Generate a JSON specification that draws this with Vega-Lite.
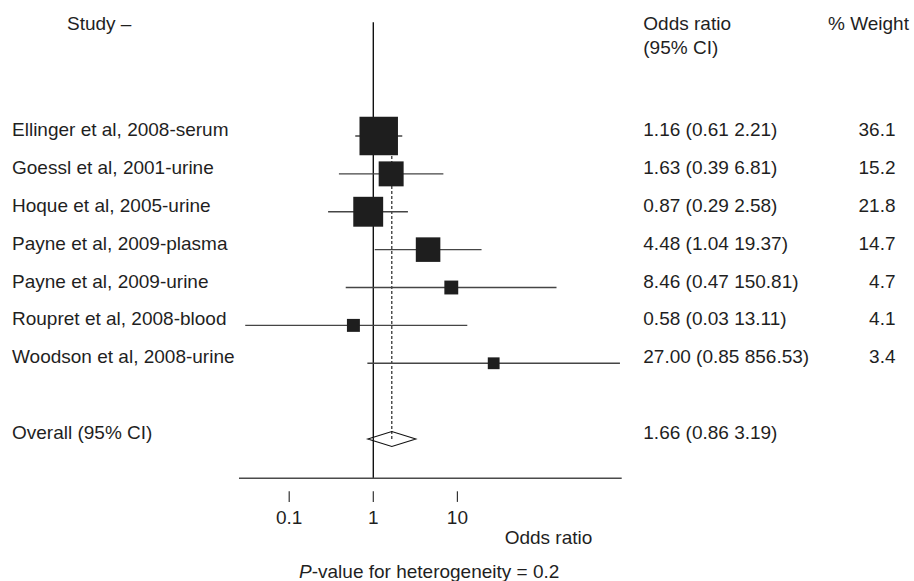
{
  "$schema": "https://vega.github.io/schema/vega-lite/v6.json",
  "width": 914,
  "height": 581,
  "autosize": {"type": "none"},
  "padding": 0,
  "background": "white",
  "config": {
    "view": {"stroke": null},
    "text": {"font": "Liberation Sans", "fontSize": 19, "color": "#1f1f1f", "baseline": "alphabetic"}
  },
  "data": {"values": [{}]},
  "datasets": {
    "studies": [
      {"study": "Ellinger et al, 2008-serum", "or": 1.16, "lo": 0.61, "hi": 2.21, "ci": "1.16 (0.61 2.21)", "weight": 36.1, "row": 0},
      {"study": "Goessl et al, 2001-urine", "or": 1.63, "lo": 0.39, "hi": 6.81, "ci": "1.63 (0.39 6.81)", "weight": 15.2, "row": 1},
      {"study": "Hoque et al, 2005-urine", "or": 0.87, "lo": 0.29, "hi": 2.58, "ci": "0.87 (0.29 2.58)", "weight": 21.8, "row": 2},
      {"study": "Payne et al, 2009-plasma", "or": 4.48, "lo": 1.04, "hi": 19.37, "ci": "4.48 (1.04 19.37)", "weight": 14.7, "row": 3},
      {"study": "Payne et al, 2009-urine", "or": 8.46, "lo": 0.47, "hi": 150.81, "ci": "8.46 (0.47 150.81)", "weight": 4.7, "row": 4},
      {"study": "Roupret et al, 2008-blood", "or": 0.58, "lo": 0.03, "hi": 13.11, "ci": "0.58 (0.03 13.11)", "weight": 4.1, "row": 5},
      {"study": "Woodson et al, 2008-urine", "or": 27.0, "lo": 0.85, "hi": 856.53, "ci": "27.00 (0.85 856.53)", "weight": 3.4, "row": 6}
    ],
    "overall": [
      {"label": "Overall (95% CI)", "or": 1.66, "lo": 0.86, "hi": 3.19, "ci": "1.66 (0.86 3.19)", "row": 8}
    ],
    "ticks": [
      {"v": 0.1, "label": "0.1"},
      {"v": 1, "label": "1"},
      {"v": 10, "label": "10"}
    ]
  },
  "layer": [
    {
      "mark": {"type": "rule", "color": "#111111", "strokeWidth": 1.4},
      "encoding": {
        "x": {"datum": 1, "type": "quantitative", "scale": {"type": "log", "domain": [0.0000364, 2687000], "nice": false}, "axis": null},
        "y": {"datum": -3.0, "type": "quantitative", "scale": {"domain": [-3.59, 11.748], "reverse": true, "nice": false, "zero": false}, "axis": null},
        "y2": {"datum": 9.037}
      }
    },
    {
      "mark": {"type": "rule", "color": "#111111", "strokeWidth": 1.1, "strokeDash": [3, 2]},
      "encoding": {
        "x": {"datum": 1.66, "type": "quantitative"},
        "y": {"datum": 0, "type": "quantitative"},
        "y2": {"datum": 8}
      }
    },
    {
      "mark": {"type": "rule", "color": "#4a4a4a", "strokeWidth": 1.6},
      "encoding": {
        "x": {"datum": 0.02529, "type": "quantitative"},
        "x2": {"datum": 898.7},
        "y": {"datum": 9.037, "type": "quantitative"}
      }
    },
    {
      "data": {"name": "studies"},
      "mark": {"type": "rule", "color": "#454545", "strokeWidth": 1.3},
      "encoding": {
        "x": {"field": "lo", "type": "quantitative"},
        "x2": {"field": "hi"},
        "y": {"field": "row", "type": "quantitative"}
      }
    },
    {
      "data": {"name": "studies"},
      "mark": {"type": "square", "filled": true, "color": "#1e1e1e", "opacity": 1, "strokeWidth": 0},
      "encoding": {
        "x": {"field": "or", "type": "quantitative"},
        "y": {"field": "row", "type": "quantitative"},
        "size": {"field": "weight", "type": "quantitative", "scale": {"type": "linear", "domain": [0, 36.1], "range": [0, 1480]}, "legend": null}
      }
    },
    {
      "data": {"name": "overall"},
      "mark": {"type": "point", "shape": "M-1,0L0,-0.3125L1,0L0,0.3125Z", "size": 2304, "filled": false, "color": "#111111", "strokeWidth": 1.1, "opacity": 1},
      "encoding": {
        "x": {"field": "or", "type": "quantitative"},
        "y": {"field": "row", "type": "quantitative"}
      }
    },
    {
      "data": {"name": "ticks"},
      "mark": {"type": "rule", "color": "#333333", "strokeWidth": 1.2},
      "encoding": {
        "x": {"field": "v", "type": "quantitative"},
        "y": {"datum": 9.38, "type": "quantitative"},
        "y2": {"datum": 9.66}
      }
    },
    {
      "data": {"name": "ticks"},
      "mark": {"type": "text", "align": "center"},
      "encoding": {
        "x": {"field": "v", "type": "quantitative"},
        "y": {"datum": 10.24, "type": "quantitative"},
        "text": {"field": "label"}
      }
    },
    {
      "data": {"name": "studies"},
      "mark": {"type": "text", "align": "left"},
      "encoding": {
        "x": {"datum": 0.00005058, "type": "quantitative"},
        "y": {"field": "row", "type": "quantitative"},
        "text": {"field": "study"}
      }
    },
    {
      "data": {"name": "studies"},
      "mark": {"type": "text", "align": "left"},
      "encoding": {
        "x": {"datum": 1623, "type": "quantitative"},
        "y": {"field": "row", "type": "quantitative"},
        "text": {"field": "ci"}
      }
    },
    {
      "data": {"name": "studies"},
      "mark": {"type": "text", "align": "right"},
      "encoding": {
        "x": {"datum": 1619000, "type": "quantitative"},
        "y": {"field": "row", "type": "quantitative"},
        "text": {"field": "weight", "format": ".1f"}
      }
    },
    {
      "data": {"name": "overall"},
      "mark": {"type": "text", "align": "left"},
      "encoding": {
        "x": {"datum": 0.00005058, "type": "quantitative"},
        "y": {"field": "row", "type": "quantitative"},
        "text": {"field": "label"}
      }
    },
    {
      "data": {"name": "overall"},
      "mark": {"type": "text", "align": "left"},
      "encoding": {
        "x": {"datum": 1623, "type": "quantitative"},
        "y": {"field": "row", "type": "quantitative"},
        "text": {"field": "ci"}
      }
    },
    {
      "mark": {"type": "text", "align": "left"},
      "encoding": {
        "x": {"datum": 0.0002279, "type": "quantitative"},
        "y": {"datum": -2.785, "type": "quantitative"},
        "text": {"value": "Study –"}
      }
    },
    {
      "mark": {"type": "text", "align": "left"},
      "encoding": {
        "x": {"datum": 1623, "type": "quantitative"},
        "y": {"datum": -2.785, "type": "quantitative"},
        "text": {"value": "Odds ratio"}
      }
    },
    {
      "mark": {"type": "text", "align": "left"},
      "encoding": {
        "x": {"datum": 1623, "type": "quantitative"},
        "y": {"datum": -2.157, "type": "quantitative"},
        "text": {"value": "(95% CI)"}
      }
    },
    {
      "mark": {"type": "text", "align": "left"},
      "encoding": {
        "x": {"datum": 255100, "type": "quantitative"},
        "y": {"datum": -2.785, "type": "quantitative"},
        "text": {"value": "% Weight"}
      }
    },
    {
      "mark": {"type": "text", "align": "center"},
      "encoding": {
        "x": {"datum": 121.1, "type": "quantitative"},
        "y": {"datum": 10.77, "type": "quantitative"},
        "text": {"value": "Odds ratio"}
      }
    },
    {
      "mark": {"type": "text", "align": "right", "fontStyle": "italic"},
      "encoding": {
        "x": {"datum": 0.1851, "type": "quantitative"},
        "y": {"datum": 11.66, "type": "quantitative"},
        "text": {"value": "P"}
      }
    },
    {
      "mark": {"type": "text", "align": "left"},
      "encoding": {
        "x": {"datum": 0.1851, "type": "quantitative"},
        "y": {"datum": 11.66, "type": "quantitative"},
        "text": {"value": "-value for heterogeneity = 0.2"}
      }
    }
  ]
}
